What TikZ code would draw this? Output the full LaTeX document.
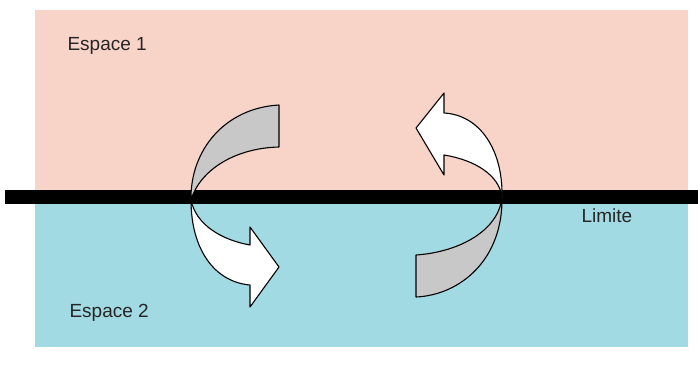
\documentclass[tikz,border=0pt]{standalone}
\usepackage{fontspec}
\setmainfont{Liberation Sans}
\definecolor{espaceun}{HTML}{F8D3C7}
\definecolor{espacedeux}{HTML}{A2DAE3}
\definecolor{ruban}{HTML}{C8C8C8}
\tikzset{
  zone/.style={anchor=west, text=black!85, font=\fontsize{19}{22}\selectfont},
  bande/.style={draw=black, line width=1.1pt, line join=round}
}
\begin{document}
\begin{tikzpicture}[x=1pt, y=-1pt]
  \useasboundingbox (0,0) rectangle (698,376);
  % les deux espaces
  \fill[espaceun] (35,10) rectangle (688,197);
  \fill[espacedeux] (35,197) rectangle (688,347);
  \draw[line width=14pt] (5,197) -- (698,197);
  \node[zone] (esp1) at (64,46) {Espace 1};
  \node[zone] (esp2) at (66,313) {Espace 2};
  \node[zone] (lim) at (578,216) {Limite};

  % fleche de gauche
  \filldraw[bande, fill=ruban] (279,105) .. controls (225,108) and (190,150) .. (191,200)
    .. controls (200,170) and (235,148) .. (279,147) -- cycle;
  \filldraw[bande, fill=white] (191,200) .. controls (191,250) and (215,282) .. (250,285)
    -- (250,307) -- (279,267) -- (250,227) -- (250,245)
    .. controls (222,240) and (196,225) .. (191,200) -- cycle;

  % fleche de droite
  \filldraw[bande, fill=ruban] (502,197) .. controls (503,260) and (460,295) .. (416,297)
    -- (416,255) .. controls (460,252) and (499,230) .. (502,197) -- cycle;
  \filldraw[bande, fill=white] (502,197) .. controls (503,150) and (480,115) .. (444,113)
    -- (444,93) -- (416,128) -- (444,175) -- (444,155)
    .. controls (475,160) and (499,175) .. (502,197) -- cycle;
\end{tikzpicture}
\end{document}
